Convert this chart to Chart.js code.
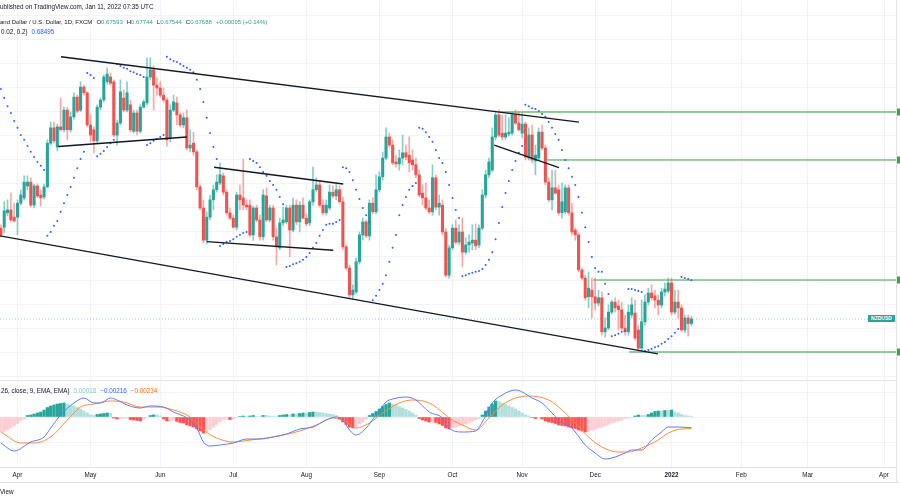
<!DOCTYPE html>
<html><head><meta charset="utf-8">
<script src="https://cdn.jsdelivr.net/npm/chart.js@4.4.1/dist/chart.umd.min.js"></script>
<style>
html,body{margin:0;padding:0;background:#fff;}
#wrap{position:relative;width:900px;height:500px;overflow:hidden;background:#fff;}
canvas{position:absolute;left:0;top:0;}
.t{position:absolute;white-space:nowrap;font-family:"Liberation Sans",Arial,sans-serif;font-size:6.3px;line-height:7px;color:#131722;}
.row{display:flex;gap:4px;}
.up{color:#26a69a;}
#sym{position:absolute;left:868px;width:27px;height:7px;background:#26a69a;color:#fff;font-family:"Liberation Sans",Arial,sans-serif;font-size:5px;font-weight:bold;line-height:7px;text-align:center;}
</style></head><body>
<div id="wrap">
<canvas id="c" width="900" height="500"></canvas>
<div class="t" style="left:0;top:3px;">ublished on TradingView.com, Jan 11, 2022 07:35 UTC</div>
<div class="t row" style="left:0;top:19px;font-size:6px;"><span>and Dollar / U.S. Dollar, 1D, FXCM</span><span>O<span class="up">0.67593</span></span><span>H<span class="up">0.67744</span></span><span>L<span class="up">0.67544</span></span><span>C<span class="up">0.67688</span></span><span class="up">+0.00095 (+0.14%)</span></div>
<div class="t row" style="left:1px;top:28px;"><span>0.02, 0.2)</span><span style="color:#2962ff;">0.68495</span></div>
<div class="t row" style="left:1px;top:387px;"><span>26, close, 9, EMA, EMA)</span><span style="color:#80cbc4;">0.00018</span><span style="color:#2962ff;">−0.00216</span><span style="color:#ff6d00;">−0.00234</span></div>
<div class="t" style="left:0;top:488px;">View</div>
<div id="sym">NZDUSD</div>
</div>
<script>
// ---------- data (bar index 0 = 1 Apr 2021, one bar per trading day) ----------
const firstBar = -5;
const open = [
.6958,.6960,.6990,.6996,.6981,.6981,.7010,.7021,.7046,.7054,
.7006,.7046,.7027,.7023,.7044,.7135,.7167,.7127,.7169,.7163,
.7204,.7163,.7190,.7231,.7204,.7252,.7240,.7173,.7163,.7140,
.7210,.7225,.7263,.7273,.7263,.7152,.7177,.7229,.7204,.7215,
.7160,.7198,.7160,.7210,.7219,.7273,.7288,.7256,.7250,.7235,
.7225,.7146,.7204,.7219,.7194,.7173,.7188,.7125,.7135,.7117,
.7044,.7000,.6933,.6981,.7017,.7038,.7052,.7067,.7033,.6990,
.6979,.6960,.7027,.7021,.7006,.7006,.6944,.7000,.6975,.6940,
.7025,.6975,.7000,.6940,.6917,.6969,.6971,.7000,.6954,.7006,
.6971,.7006,.6979,.6969,.7013,.7038,.7048,.7006,.6990,.7000,
.7033,.7025,.7038,.7013,.6919,.6875,.6819,.6825,.6888,.6944,
.6971,.6942,.7010,.6992,.7038,.7065,.7104,.7148,.7131,.7096,
.7092,.7104,.7115,.7110,.7100,.7090,.7069,.7031,.7021,.7000,
.6992,.7063,.7002,.7006,.6950,.6860,.6917,.6958,.6929,.6950,
.6908,.6923,.6927,.6933,.6923,.6958,.7027,.7069,.7079,.7148,
.7194,.7156,.7148,.7154,.7156,.7194,.7177,.7156,.7175,.7104,
.7152,.7098,.7104,.7158,.7125,.7054,.7017,.7042,.7038,.6990,
.6992,.7042,.6990,.6954,.6944,.6871,.6854,.6815,.6829,.6815,
.6802,.6813,.6742,.6750,.6783,.6804,.6796,.6788,.6750,.6742,
.6777,.6781,.6746,.6708,.6763,.6804,.6823,.6817,.6808,.6798,
.6825,.6827,.6844,.6783,.6804,.6792,.6746,.6771,.67593];
const high = [
.6965,.7013,.7017,.7031,.7010,.7017,.7038,.7067,.7067,.7063,
.7050,.7050,.7038,.7050,.7142,.7179,.7179,.7175,.7229,.7210,
.7210,.7200,.7240,.7235,.7263,.7256,.7242,.7194,.7169,.7215,
.7229,.7277,.7292,.7281,.7267,.7183,.7267,.7246,.7263,.7225,
.7204,.7204,.7215,.7225,.7313,.7313,.7296,.7271,.7263,.7250,
.7229,.7215,.7235,.7231,.7198,.7198,.7204,.7163,.7158,.7121,
.7048,.7017,.6992,.7027,.7048,.7069,.7094,.7073,.7038,.7000,
.6985,.7033,.7048,.7102,.7017,.7017,.7004,.7006,.6985,.7038,
.7042,.7006,.7006,.6958,.6979,.7002,.7006,.7006,.7021,.7017,
.7013,.7021,.6988,.7017,.7085,.7063,.7058,.7017,.7017,.7048,
.7046,.7050,.7046,.7023,.6923,.6881,.6840,.6896,.6950,.6979,
.6975,.7017,.7021,.7069,.7075,.7117,.7167,.7156,.7142,.7110,
.7121,.7152,.7131,.7148,.7121,.7104,.7079,.7048,.7052,.7017,
.7090,.7069,.7027,.7017,.6958,.6923,.6965,.6975,.6965,.6979,
.6938,.6944,.6965,.6967,.6965,.7038,.7079,.7104,.7167,.7202,
.7204,.7194,.7194,.7188,.7200,.7204,.7200,.7198,.7179,.7167,
.7173,.7131,.7167,.7173,.7131,.7063,.7079,.7079,.7048,.7052,
.7048,.7048,.7010,.6958,.6948,.6875,.6860,.6867,.6854,.6854,
.6829,.6825,.6771,.6798,.6808,.6813,.6808,.6804,.6777,.6798,
.6813,.6808,.6756,.6808,.6819,.6833,.6840,.6829,.6819,.6833,
.6844,.6854,.6854,.6829,.6829,.6798,.6777,.6777,.67744];
const low = [
.6940,.6948,.6983,.6971,.6971,.6944,.7006,.7017,.7038,.7002,
.7000,.7021,.7004,.7019,.7042,.7131,.7135,.7119,.7160,.7158,
.7142,.7158,.7185,.7198,.7200,.7235,.7169,.7138,.7115,.7135,
.7204,.7221,.7258,.7256,.7148,.7131,.7173,.7200,.7200,.7158,
.7156,.7152,.7156,.7208,.7215,.7267,.7204,.7235,.7231,.7221,
.7129,.7138,.7200,.7173,.7169,.7167,.7121,.7117,.7110,.7038,
.6996,.6927,.6925,.6975,.6996,.7033,.7048,.7027,.6985,.6975,
.6958,.6954,.6996,.6996,.6996,.6940,.6933,.6971,.6933,.6933,
.6971,.6971,.6933,.6881,.6913,.6963,.6967,.6898,.6950,.6965,
.6950,.6977,.6963,.6963,.7006,.7033,.7002,.6985,.6985,.6996,
.7021,.7017,.7010,.6913,.6871,.6813,.6810,.6821,.6883,.6933,
.6938,.6933,.6988,.6988,.7033,.7058,.7100,.7127,.7090,.7085,
.7079,.7090,.7100,.7075,.7079,.7063,.7023,.7006,.6996,.6988,
.6985,.6996,.6985,.6944,.6856,.6854,.6913,.6925,.6923,.6877,
.6904,.6908,.6913,.6913,.6917,.6954,.7021,.7063,.7075,.7142,
.7148,.7142,.7142,.7150,.7152,.7173,.7160,.7146,.7100,.7100,
.7094,.7069,.7100,.7121,.7048,.7013,.6996,.7029,.6985,.6979,
.6988,.6985,.6944,.6933,.6867,.6850,.6808,.6792,.6771,.6788,
.6796,.6735,.6731,.6746,.6779,.6783,.6746,.6746,.6735,.6735,
.6771,.6725,.6702,.6700,.6756,.6798,.6808,.6792,.6777,.6792,
.6817,.6823,.6777,.6779,.6771,.6742,.6740,.6733,.67544];
const close = [
.6944,.6994,.6996,.6975,.6973,.7010,.7027,.7054,.7054,.7006,
.7046,.7025,.7021,.7044,.7135,.7167,.7140,.7169,.7163,.7204,
.7163,.7190,.7231,.7202,.7252,.7240,.7173,.7152,.7140,.7210,
.7225,.7273,.7279,.7260,.7152,.7177,.7242,.7204,.7240,.7163,
.7198,.7160,.7210,.7221,.7273,.7288,.7256,.7250,.7235,.7225,
.7142,.7204,.7221,.7194,.7173,.7188,.7125,.7131,.7117,.7044,
.7000,.6933,.6981,.7017,.7038,.7054,.7069,.7033,.6990,.6979,
.6960,.7027,.7017,.7006,.7002,.6944,.7000,.6975,.6940,.7027,
.6975,.7000,.6940,.6919,.6969,.6975,.7000,.6954,.7006,.6971,
.7006,.6979,.6967,.7013,.7038,.7048,.7006,.6990,.7006,.7033,
.7025,.7038,.7013,.6919,.6875,.6819,.6829,.6888,.6944,.6971,
.6942,.7010,.6992,.7038,.7065,.7104,.7148,.7131,.7094,.7092,
.7104,.7115,.7106,.7094,.7090,.7069,.7027,.7021,.7000,.6992,
.7063,.7002,.7010,.6950,.6860,.6917,.6958,.6929,.6950,.6908,
.6923,.6929,.6933,.6921,.6958,.7027,.7069,.7096,.7148,.7194,
.7152,.7148,.7156,.7158,.7194,.7177,.7163,.7175,.7106,.7152,
.7100,.7110,.7158,.7125,.7054,.7017,.7042,.7031,.6990,.7013,
.7042,.6990,.6950,.6944,.6871,.6854,.6813,.6833,.6815,.6802,
.6813,.6742,.6750,.6783,.6804,.6792,.6788,.6750,.6742,.6783,
.6798,.6729,.6708,.6763,.6804,.6823,.6813,.6808,.6798,.6825,
.6831,.6844,.6783,.6804,.6792,.6746,.6771,.67593,.67688];
const sar = [
.7248,.7229,.7212,.7198,.7181,.7167,.7152,.7142,.7129,.7117,
.7106,.7096,.7088,.7079,.6942,.6950,.6963,.6973,.6992,.7010,
.7027,.7044,.7063,.7083,.7102,.7117,.7281,.7277,.7271,.7108,
.7113,.7119,.7127,.7135,.7142,.7300,.7296,.7292,.7290,.7285,
.7283,.7279,.7277,.7273,.7131,.7135,.7140,.7144,.7148,.7152,
.7315,.7310,.7306,.7304,.7300,.7296,.7292,.7288,.7283,.7267,
.7248,.7221,.7188,.7156,.7127,.7102,.6921,.6925,.6929,.6931,
.6935,.6940,.6944,.6948,.6950,.7102,.7098,.7094,.7085,.7075,
.7067,.7056,.7048,.7038,.7023,.7008,.6877,.6879,.6883,.6885,
.6888,.6892,.6898,.6906,.6917,.6927,.6942,.6954,.6965,.6967,
.6967,.6971,.6975,.7085,.7083,.7075,.7058,.7038,.7019,.7000,
.6985,.6971,.6808,.6817,.6829,.6842,.6860,.6888,.6917,.6944,
.6985,.7006,.7023,.7038,.7046,.7052,.7167,.7165,.7158,.7148,
.7138,.7121,.7104,.7094,.7075,.7048,.7021,.6996,.6979,.6858,
.6860,.6863,.6865,.6867,.6869,.6873,.6881,.6892,.6908,.6935,
.6969,.7002,.7031,.7056,.7079,.7098,.7115,.7129,.7215,.7212,
.7208,.7206,.7202,.7196,.7190,.7179,.7167,.7154,.7142,.7121,
.7100,.7083,.7065,.7048,.7023,.6990,.6960,.6929,.6898,.6875,
.6867,.6867,.6842,.6821,.6733,.6735,.6738,.6742,.6744,.6831,
.6831,.6829,.6827,.6825,.6702,.6704,.6706,.6710,.6712,.6717,
.6721,.6727,.6733,.6740,.6748,.6856,.6854,.6852,.68495];
const hist = [
-0.0030,-0.0029,-0.0026,-0.0022,-0.0018,-0.0013,-0.0008,-0.0004,0.0003,0.0004,
0.0006,0.0008,0.0010,0.0014,0.0019,0.0022,0.0024,0.0026,0.0027,0.0028,
0.0026,0.0024,0.0022,0.0019,0.0016,0.0012,0.0008,0.0004,0.0003,0.0005,
0.0006,0.0007,0.0008,0.0007,-0.0002,-0.0004,-0.0003,-0.0003,-0.0002,-0.0005,
-0.0006,-0.0007,-0.0008,-0.0005,-0.0001,0.0003,0.0004,0.0004,0.0002,-0.0004,
-0.0008,-0.0008,-0.0007,-0.0009,-0.0011,-0.0012,-0.0016,-0.0018,-0.0020,-0.0024,
-0.0028,-0.0032,-0.0029,-0.0025,-0.0020,-0.0015,-0.0010,-0.0005,-0.0004,-0.0005,
-0.0004,-0.0001,0.0001,0.0002,0.0001,0.0002,0.0003,0.0001,0.0001,0.0003,
0.0003,0.0002,0.0001,0.0001,0.0003,0.0004,0.0005,0.0004,0.0006,0.0006,
0.0007,0.0008,0.0008,0.0009,0.0010,0.0010,0.0009,0.0008,0.0007,0.0006,
0.0005,0.0003,-0.0004,-0.0010,-0.0015,-0.0020,-0.0022,-0.0019,-0.0014,-0.0010,
-0.0004,0.0003,0.0007,0.0011,0.0016,0.0021,0.0025,0.0028,0.0026,0.0024,
0.0021,0.0018,0.0015,0.0012,0.0008,0.0004,-0.0003,-0.0006,-0.0008,-0.0010,
-0.0009,-0.0011,-0.0014,-0.0017,-0.0022,-0.0024,-0.0022,-0.0020,-0.0018,-0.0016,
-0.0014,-0.0012,-0.0009,-0.0006,-0.0003,0.0004,0.0012,0.0020,0.0026,0.0032,
0.0031,0.0028,0.0025,0.0022,0.0019,0.0016,0.0012,0.0008,0.0004,0.0002,
-0.0001,-0.0003,-0.0002,-0.0004,-0.0008,-0.0010,-0.0011,-0.0013,-0.0016,-0.0017,
-0.0018,-0.0020,-0.0022,-0.0023,-0.0026,-0.0028,-0.0030,-0.0029,-0.0027,-0.0025,
-0.0022,-0.0020,-0.0018,-0.0015,-0.0012,-0.0010,-0.0008,-0.0006,-0.0003,-0.0002,
-0.0001,0.0002,0.0004,0.0003,0.0003,0.0005,0.0008,0.0011,0.0012,0.0012,
0.0013,0.0013,0.0014,0.0010,0.0008,0.0005,0.0003,0.0002,0.00018];
const macdBars = [-5,-1,4,8,10,13,17,20,23,25,28,30,33,37,40,44,47,51,54,56,58,61,65,69,73,77,81,85,89,93,96,98,100,102,105,108,111,113,117,120,124,128,130,134,138,140,143,146,150,152,155,158,161,164,166,168,171,174,177,180,183,185,188,191,194,196,199,203];
const macdVals = [-0.0052,-0.0068,-0.0050,-0.0040,-0.0022,0.0004,0.0028,0.0038,0.0028,0.0028,0.0038,0.0034,0.0024,0.0018,0.0022,0.0020,0.0010,-0.0002,-0.0022,-0.0050,-0.0058,-0.0056,-0.0052,-0.0044,-0.0044,-0.0040,-0.0034,-0.0024,-0.0020,-0.0006,0.0000,-0.0006,-0.0026,-0.0036,-0.0022,0.0004,0.0030,0.0036,0.0040,0.0034,0.0010,-0.0002,-0.0022,-0.0030,-0.0028,-0.0010,0.0028,0.0044,0.0054,0.0050,0.0038,0.0028,0.0008,-0.0012,-0.0016,-0.0030,-0.0056,-0.0072,-0.0084,-0.0080,-0.0072,-0.0066,-0.0066,-0.0046,-0.0030,-0.0020,-0.0020,-0.00216];
const signalBars = [-5,1,5,10,15,19,23,28,32,37,42,47,52,56,60,65,70,75,80,85,90,95,99,102,106,110,115,119,124,129,130,134,138,142,146,150,154,160,164,168,172,176,181,184,188,193,196,200,203];
const signalVals = [-0.0030,-0.0052,-0.0052,-0.0040,-0.0006,0.0020,0.0026,0.0032,0.0030,0.0020,0.0020,0.0014,0.0000,-0.0026,-0.0042,-0.0050,-0.0046,-0.0042,-0.0036,-0.0028,-0.0016,-0.0002,-0.0010,-0.0022,-0.0012,0.0008,0.0028,0.0034,0.0028,0.0004,-0.0002,-0.0016,-0.0026,-0.0002,0.0024,0.0038,0.0042,0.0034,0.0014,-0.0012,-0.0040,-0.0060,-0.0070,-0.0070,-0.0062,-0.0046,-0.0032,-0.0024,-0.00234];
const monthTickBars = [0,22,43,65,87,109,131,152,174,197,218,238,261];
const monthTickLabels = ['Apr','May','Jun','Jul','Aug','Sep','Oct','Nov','Dec','2022','Feb','Mar','Apr'];
const priceGrid = [0.665,0.670,0.675,0.680,0.685,0.690,0.695,0.700,0.705,0.710,0.715,0.720,0.725,0.730,0.735,0.740];
const macdGrid = [-0.005,0,0.005];
const levels = [0.7200,0.7100,0.6850,0.6700];
const levelStartBars = [145.3,159.5,173.4,184.2];
const levelStyle = [['rgba(76,175,80,0.6)',2],['#43a047',1.2],['#43a047',1.2],['rgba(76,175,80,0.6)',2]];
// trend lines: [bar1, price1, bar2, price2]
const trendLines = [
 [13.1,0.7315,169.1,0.7179],
 [-5.27,0.6942,192.9,0.6696],
 [12.3,0.7128,51.0,0.7148],
 [59.2,0.7085,98.1,0.7050],
 [57.0,0.6930,95.1,0.6912],
 [143.6,0.7131,163.1,0.7084]
];
const lastPrice = 0.67688;

// ---------- view ranges ----------
const xMin = -5.2711, xMax = 264.6084;
const yMin = 0.646042, yMax = 0.743333;
const y2Min = -0.0100, y2Max = 0.0834;

const UP = '#26a69a', DOWN = '#ef5350';
const xs = close.map((_, k) => firstBar + k);
const bodyColors = close.map((c, k) => c >= open[k] ? UP : DOWN);
const wickColors = close.map((c, k) => c >= open[k] ? 'rgba(38,166,154,0.55)' : 'rgba(239,83,80,0.5)');
const histColors = hist.map((v, k) => {
  const p = k > 0 ? hist[k-1] : v;
  if (v >= 0) return v > p ? '#26a69a' : '#b2dfdb';
  return v < p ? '#ff5252' : '#ffcdd2';
});

const datasets = [];
levels.forEach((lv, k) => datasets.push({type:'line', data:[{x:levelStartBars[k], y:lv},{x:xMax, y:lv}], borderColor:levelStyle[k][0], borderWidth:levelStyle[k][1], pointRadius:0, yAxisID:'y', order:11}));
datasets.push({type:'line', data:[{x:xMin,y:lastPrice},{x:xMax,y:lastPrice}], borderColor:'rgba(38,166,154,0.55)', borderWidth:1, borderDash:[1,2], pointRadius:0, yAxisID:'y', order:10});
datasets.push({type:'bar', data: xs.map((x,k)=>({x, y: hist[k]})), backgroundColor: histColors, barThickness:2.6, grouped:false, yAxisID:'y2', order:9});
datasets.push({type:'bar', data: xs.map((x,k)=>({x, y:[low[k], high[k]]})), backgroundColor: wickColors, barThickness:1, grouped:false, yAxisID:'y', order:8});
datasets.push({type:'bar', data: xs.map((x,k)=>({x, y:[open[k], close[k]]})), backgroundColor: bodyColors, barThickness:2.4, minBarLength:1, grouped:false, yAxisID:'y', order:7});
datasets.push({type:'line', data: xs.map((x,k)=>({x, y: sar[k]})), showLine:false, pointRadius:1, pointBorderWidth:0, pointBackgroundColor:'#2962ff', yAxisID:'y', order:6});
trendLines.forEach(t => datasets.push({type:'line', data:[{x:t[0],y:t[1]},{x:t[2],y:t[3]}], borderColor:'#131722', borderWidth:1.4, pointRadius:0, yAxisID:'y', order:5}));
datasets.push({type:'line', data: signalBars.map((b,k)=>({x:b, y:signalVals[k]})), borderColor:'#ff8a3d', borderWidth:1, pointRadius:0, cubicInterpolationMode:'monotone', yAxisID:'y2', order:4});
datasets.push({type:'line', data: macdBars.map((b,k)=>({x:b, y:macdVals[k]})), borderColor:'#5b7cfa', borderWidth:1, pointRadius:0, cubicInterpolationMode:'monotone', yAxisID:'y2', order:3});

const frame = {
  id:'frame',
  afterDraw(chart){
    const ctx = chart.ctx, a = chart.chartArea;
    ctx.save();
    ctx.strokeStyle = '#e0e3eb'; ctx.lineWidth = 1;
    ctx.beginPath();
    ctx.moveTo(a.left, 380.5); ctx.lineTo(a.right, 380.5);
    ctx.moveTo(0, 482.5); ctx.lineTo(900, 482.5);
    ctx.moveTo(a.right + 0.5, 0); ctx.lineTo(a.right + 0.5, 482);
    ctx.stroke();
    levels.forEach((lv, k) => {
      const py = chart.scales.y.getPixelForValue(lv);
      ctx.fillStyle = '#43a047';
      ctx.fillRect(a.right + 1, py - 3.5, 4, 7);
    });
    ctx.restore();
  }
};

Chart.defaults.font.family = '"Liberation Sans", Arial, sans-serif';
const chart = new Chart(document.getElementById('c'), {
  type:'bar',
  data:{datasets},
  options:{
    responsive:false, animation:false, devicePixelRatio:1,
    layout:{padding:{left:0,right:4,top:0,bottom:0}, autoPadding:false},
    plugins:{legend:{display:false}, tooltip:{enabled:false}},
    events:[],
    scales:{
      x:{type:'linear', min:xMin, max:xMax, offset:false, position:'bottom',
        afterBuildTicks: s => { s.ticks = monthTickBars.map(v => ({value:v})); },
        afterFit: s => { s.height = 33; },
        ticks:{autoSkip:false, maxRotation:0, padding:4, color:'#131722',
          font: c => ({size:6.3, weight: (c.tick && c.tick.value === 197) ? 'bold' : 'normal'}),
          callback: v => { const k = monthTickBars.indexOf(v); return k >= 0 ? monthTickLabels[k] : ''; }},
        grid:{color:'#f0f3fa', drawTicks:false, offset:false},
        border:{display:true, color:'#e0e3eb'}
      },
      y:{type:'linear', position:'left', min:yMin, max:yMax,
        afterBuildTicks: s => { s.ticks = priceGrid.map(v => ({value:v})); },
        afterFit: s => { s.width = 0; },
        ticks:{display:false}, grid:{color:'#f0f3fa', drawTicks:false}, border:{display:false}},
      y2:{type:'linear', position:'left', min:y2Min, max:y2Max,
        afterBuildTicks: s => { s.ticks = macdGrid.map(v => ({value:v})); },
        afterFit: s => { s.width = 0; },
        ticks:{display:false}, grid:{color:'#f0f3fa', drawTicks:false}, border:{display:false}}
    }
  },
  plugins:[frame]
});
const sym = document.getElementById('sym');
sym.style.top = (chart.scales.y.getPixelForValue(lastPrice) - 3.5) + 'px';
</script>
</body></html>
